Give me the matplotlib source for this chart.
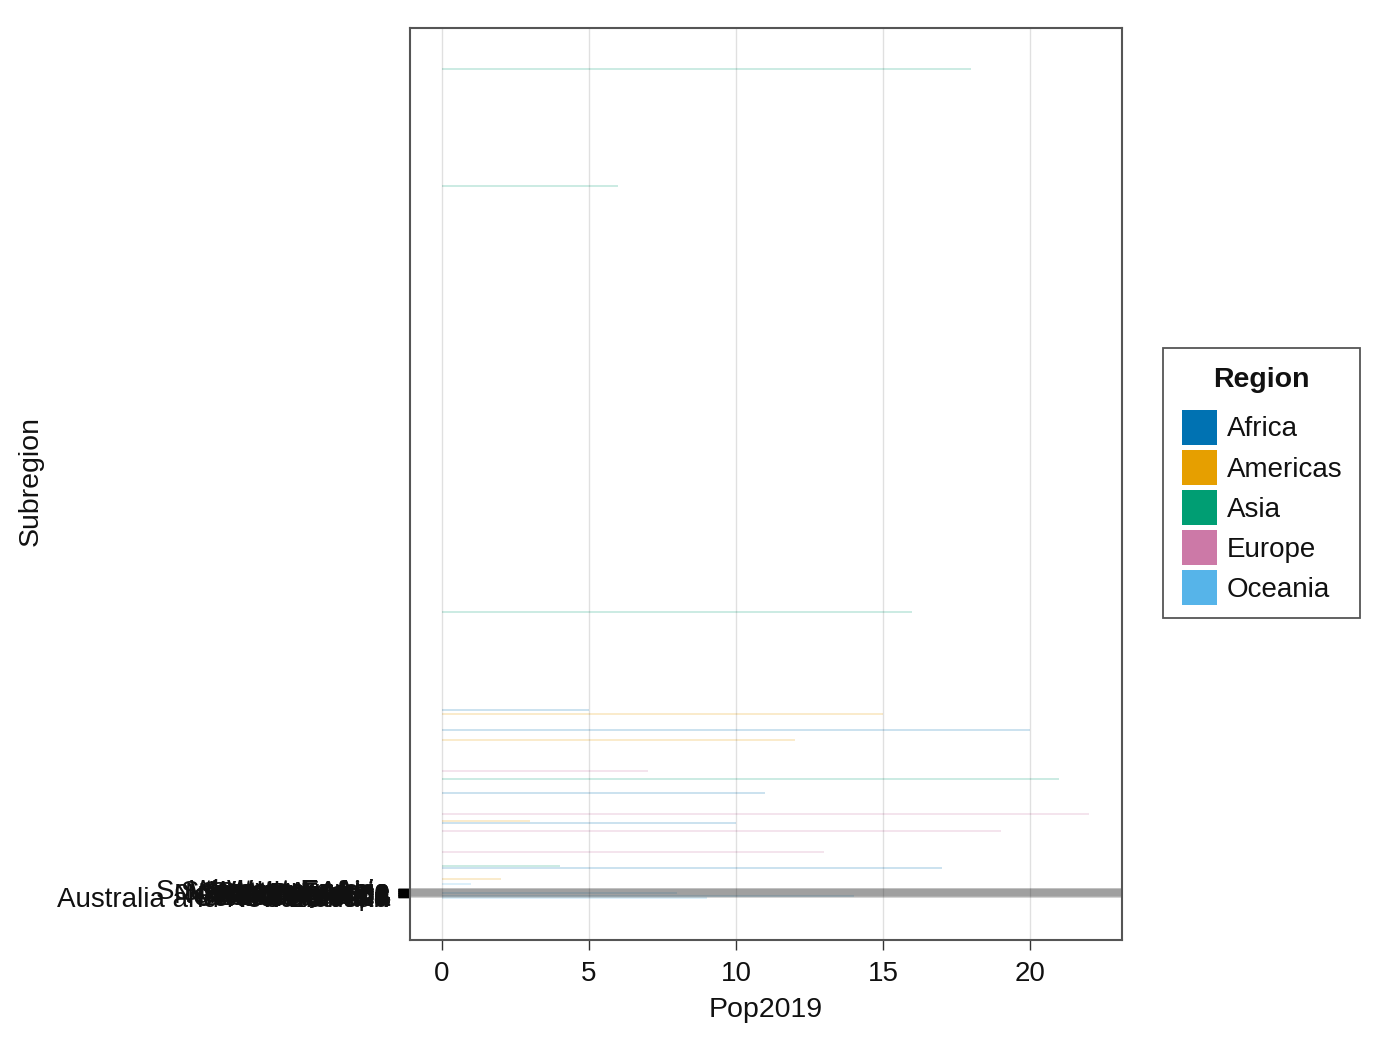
import matplotlib
matplotlib.use("Agg")
import matplotlib.pyplot as plt
from matplotlib.patches import Patch, Rectangle

plt.rcParams['font.family'] = ['Liberation Sans', 'DejaVu Sans']

# ---- data ----
subregions = [
    "Australia and New Zealand", "Caribbean", "Central America", "Central Asia",
    "Eastern Africa", "Eastern Asia", "Eastern Europe", "Melanesia", "Micronesia",
    "Middle Africa", "Northern Africa", "Northern America", "Northern Europe",
    "Polynesia", "South America", "Southern Africa", "Southern Asia",
    "Southern Europe", "Western Africa", "Western Asia", "Western Europe",
    "South-eastern Asia",
]
subregion_pos = list(range(1, 23))

regions = ["Africa", "Americas", "Asia", "Europe", "Oceania"]
region_colors = ["#0072B2", "#E69F00", "#009E73", "#CC79A7", "#56B4E9"]

bar_region = ["Asia", "Asia", "Asia", "Africa", "Americas", "Africa", "Americas",
              "Europe", "Asia", "Africa", "Europe", "Americas", "Africa", "Europe",
              "Europe", "Asia", "Africa", "Americas", "Oceania", "Oceania",
              "Oceania", "Oceania"]
bar_pos = [2071, 1779, 714, 469, 459, 419, 394, 316, 296, 261, 209, 191, 186,
           166, 114, 79, 74, 46, 34, 11, 3, -2]
pop2019 = [18, 6, 16, 5, 15, 20, 12, 7, 21, 11, 22, 3, 10, 19, 13, 4, 17, 2, 1,
           8, 14, 9]

# ---- figure ----
W, H = 1378, 1038
fig = plt.figure(figsize=(W / 100, H / 100), dpi=100)
ax = fig.add_axes([410 / W, 1 - 940 / H, 712 / W, 912 / H])

cmap = dict(zip(regions, region_colors))
ax.barh(bar_pos, pop2019, height=5, left=0,
        color=[cmap[r] for r in bar_region], alpha=0.2, zorder=2)

ax.set_xlim(-1.088, 23.13)
ax.set_ylim(-106.5, 2173.5)
ax.set_xticks([0, 5, 10, 15, 20])
ax.set_yticks(subregion_pos)
ax.set_yticklabels(subregions)

ax.xaxis.grid(True, color="black", alpha=0.12, linewidth=1.0)
ax.yaxis.grid(True, color="black", alpha=0.095, linewidth=1.3)
ax.set_axisbelow(False)
for gl in ax.get_xgridlines() + ax.get_ygridlines():
    gl.set_zorder(1.5)

for s in ax.spines.values():
    s.set_color("#555555")
    s.set_linewidth(1.5)
    s.set_zorder(4)

ax.tick_params(axis="x", length=7, width=1, color="#333333", pad=8,
               labelsize=20, labelcolor="#111111")
ax.tick_params(axis="y", length=8.5, width=1, color="black", pad=6,
               labelsize=20, labelcolor="#111111")

ax.set_xlabel("Pop2019", fontsize=20.5, color="#111111")
ax.xaxis.set_label_coords(0.5, -0.062)
ax.set_ylabel("Subregion", fontsize=20.5, color="#111111")
ax.yaxis.set_label_coords(-0.515, 0.503)

# ---- legend (frame + title drawn separately for exact placement) ----
fig.patches.append(Rectangle((1163 / W, 1 - 618 / H), 197 / W, 270 / H,
                             transform=fig.transFigure, fill=False,
                             edgecolor="#555555", linewidth=1.3))
fig.text(1261 / W, 1 - 380 / H, "Region", ha="center", va="center",
         fontsize=20.5, fontweight="bold", color="#111111")
handles = [Patch(facecolor=c, edgecolor="none", label=r)
           for r, c in zip(regions, region_colors)]
leg = fig.legend(handles=handles, loc="center left",
                 bbox_to_anchor=(1182 / W, 1 - 507.5 / H), frameon=False,
                 fontsize=20, handlelength=1.25, handleheight=1.55,
                 labelspacing=0.19, handletextpad=0.35, borderpad=0,
                 borderaxespad=0)
for t in leg.get_texts():
    t.set_color("#111111")

fig.savefig("out.png", dpi=100, facecolor="white")
